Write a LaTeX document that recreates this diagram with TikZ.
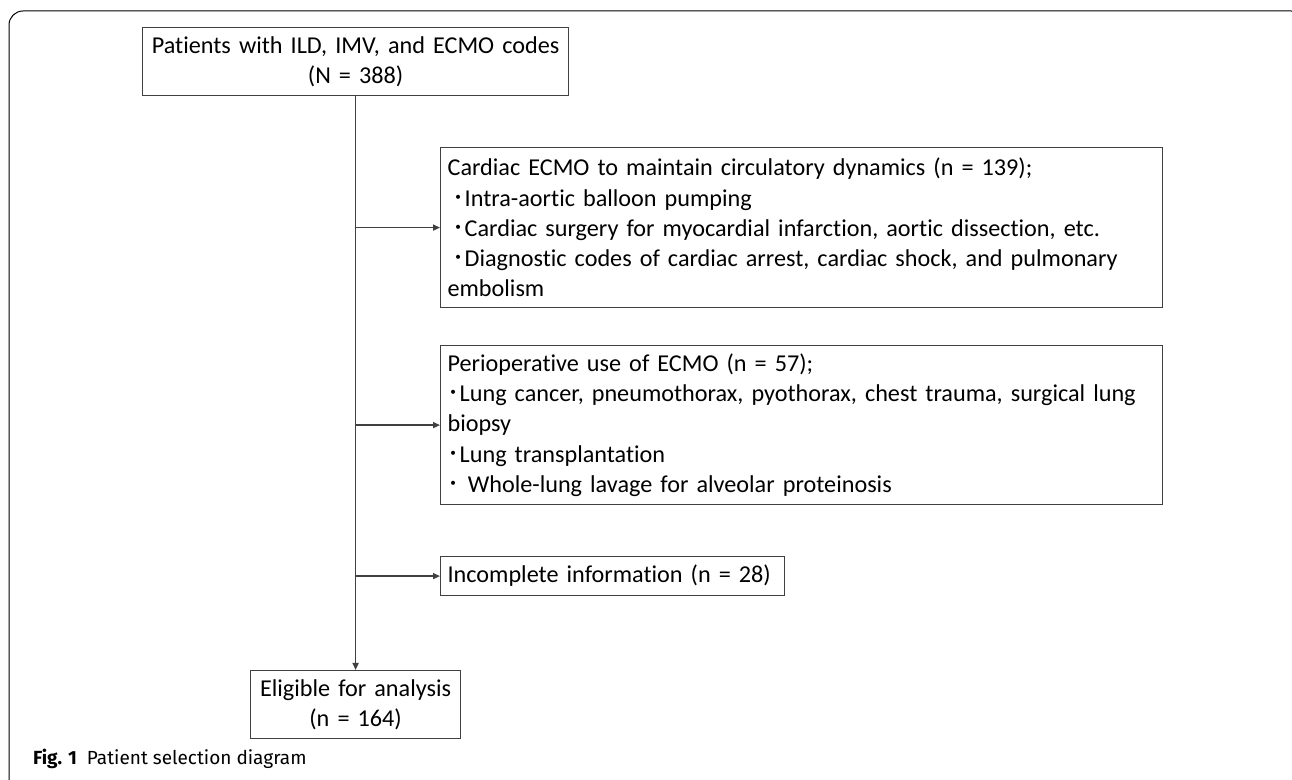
\documentclass[tikz,border=0pt]{standalone}
\usepackage{fontspec}
\setmainfont{Carlito}[Ligatures=NoCommon]
\newfontfamily\capfont{Fira Sans}
\newfontfamily\cjk{Noto Sans CJK JP}
\usetikzlibrary{arrows.meta}
\newcommand{\ptdot}{{\cjk\symbol{"FF65}}}

\begin{document}
\begin{tikzpicture}[x=0.5pt,y=-0.5pt,
		box/.style={draw=black!75,line width=0.6pt,inner ysep=0pt,anchor=north west,font=\fontsize{12.1}{15.1}\selectfont},
		flow/.style={draw=black!75,line width=0.75pt,-{Triangle[length=3.5pt,width=3pt]}}]
			\useasboundingbox (0,0) rectangle (1292,780);
			\clip (0,0) rectangle (1292,780);
			\draw[line width=0.5pt,rounded corners=7pt](9,11) rectangle (1305,795);
			% boxes
			\node [box,inner xsep=0pt,text width=213pt,minimum height=34pt,align=center] (all) at (142,27) {Patients with ILD, IMV, and ECMO codes\\(N = 388)};
			\node [box,inner xsep=3.5pt,text width=354pt,minimum height=80pt,align=left] (cardiac) at (440,147) {Cardiac ECMO to maintain circulatory dynamics (n = 139);\\
				\hspace{2.5pt}\ptdot Intra-aortic balloon pumping\\
				\hspace{2.5pt}\ptdot Cardiac surgery for myocardial infarction, aortic dissection, etc.\\
				\hspace{2.5pt}\ptdot Diagnostic codes of cardiac arrest, cardiac shock, and pulmonary\\
				embolism};
			\node [box,inner xsep=3.5pt,text width=354pt,minimum height=79.5pt,align=left] (periop) at (440,345) {Perioperative use of ECMO (n = 57);\\
				\ptdot Lung cancer, pneumothorax, pyothorax, chest trauma, surgical lung\\
				biopsy\\
				\ptdot Lung transplantation\\
				\ptdot\ Whole-lung lavage for alveolar proteinosis};
			\node [box,inner xsep=3.5pt,text width=165pt,minimum height=19.5pt,align=left] (incomplete) at (440,556) {Incomplete information (n = 28)};
			\node [box,inner xsep=0pt,text width=105pt,minimum height=34pt,align=center] (eligible) at (250,670) {Eligible for analysis\\(n = 164)};
			% arrows
			\draw[flow](all.south) -- (eligible.north);
			\draw[flow](all.south |- cardiac.west) -- (cardiac.west);
			\draw[flow](all.south |- periop.west) -- (periop.west);
			\draw[flow](all.south |- incomplete.west) -- (incomplete.west);
			\node [anchor=base west,font=\capfont\fontsize{9.5}{11}\selectfont] (caption) at (26,765) {\textbf{Fig. 1}\hspace{5pt}Patient selection diagram};
		\end{tikzpicture}
\end{document}
